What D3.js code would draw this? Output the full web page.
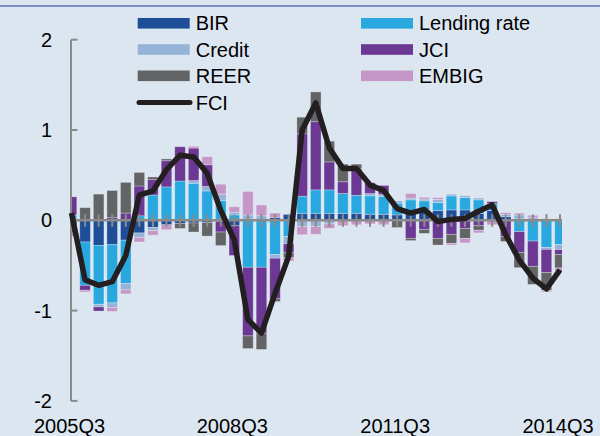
<!DOCTYPE html>
<html>
<head>
<meta charset="utf-8">
<script src="https://cdn.jsdelivr.net/npm/d3@7"></script>
<style>
  html, body { margin: 0; padding: 0; background: #dce6f1; }
  #chart { width: 600px; height: 436px; }
  text { font-family: "Liberation Sans", Arial, sans-serif; fill: #000; }
</style>
</head>
<body>
<div id="chart"></div>
<script>
const quarters = [
    "2005Q3", "2005Q4", "2006Q1", "2006Q2", "2006Q3", "2006Q4", "2007Q1", "2007Q2",
    "2007Q3", "2007Q4", "2008Q1", "2008Q2", "2008Q3", "2008Q4", "2009Q1", "2009Q2",
    "2009Q3", "2009Q4", "2010Q1", "2010Q2", "2010Q3", "2010Q4", "2011Q1", "2011Q2",
    "2011Q3", "2011Q4", "2012Q1", "2012Q2", "2012Q3", "2012Q4", "2013Q1", "2013Q2",
    "2013Q3", "2013Q4", "2014Q1", "2014Q2", "2014Q3"
];
const xLabels = ["2005Q3", "2008Q3", "2011Q3", "2014Q3"];
const yTicks = [-2, -1, 0, 1, 2];

const bir = [-0.06, -0.24, -0.28, -0.27, -0.22, -0.14, -0.08, -0.05, -0.035, -0.03, -0.025, -0.01,
    -0.06, 0, 0, 0.03, 0.065, 0.077, 0.077, 0.077, 0.077, 0.077, 0.066, 0.066, 0.06, 0.077,
    0.115, 0.107, 0.115, 0.115, 0.077, 0.107, 0.04, 0.015, 0.01, 0.015, 0.015];
const lending = [0.06, -0.48, -0.65, -0.645, -0.48, 0.05, 0.28, 0.37, 0.435, 0.41, 0.325, 0.22,
    0.06, -0.52, -0.52, -0.38, -0.18, 0.19, 0.26, 0.26, 0.22, 0.2, 0.205, 0.2, 0.13, 0.15,
    0.1, 0.09, 0.155, 0.137, 0.15, 0.08, 0, -0.125, -0.23, -0.3, -0.27];
const credit = [0, 0, -0.03, -0.05, -0.07, -0.05, -0.035, 0, 0, 0.03, 0.05, 0.07,
    0.03, 0.06, 0.05, -0.04, -0.08, -0.07, -0.07, -0.04, 0, 0, 0.025, 0.02, 0.025, 0.02,
    0.02, 0.035, 0.02, 0.02, 0.02, 0, 0.026, 0.045, 0.02, -0.022, -0.055];
const jci = [0.2, -0.055, -0.045, 0.03, 0.08, 0.33, 0.17, 0.29, 0.38, 0.36, 0.24, -0.12,
    -0.33, -0.76, -0.73, -0.45, -0.1, 0.69, 0.755, 0.31, 0.13, 0.295, 0.12, 0.1, 0, -0.2,
    -0.1, -0.2, -0.155, -0.09, -0.06, 0.02, -0.18, -0.23, -0.28, -0.255, -0.055];
const reer = [-0.08, 0.14, 0.29, 0.3, 0.34, 0.15, 0.03, 0.02, -0.055, -0.1, -0.15, -0.15,
    0, -0.14, -0.18, -0.03, -0.055, 0.185, 0.33, 0.23, 0.195, 0.05, 0, 0, -0.08, -0.025,
    -0.045, -0.074, -0.1, -0.11, -0.05, 0, -0.055, -0.17, -0.2, -0.2, -0.148];
const embig = [-0.04, -0.02, 0, -0.045, -0.045, -0.05, -0.05, -0.055, 0, 0.02, 0.09, 0.11,
    0.06, 0.26, 0.12, 0.05, -0.035, -0.09, -0.085, -0.05, -0.06, -0.05, -0.04, -0.05, 0, 0.05,
    0.02, 0.02, -0.02, -0.05, -0.03, -0.05, 0.02, 0.02, 0.026, -0.015, -0.037];
const fci = [0.08, -0.66, -0.72, -0.68, -0.39, 0.28, 0.325, 0.56, 0.72, 0.70, 0.52, 0.11,
    -0.22, -1.1, -1.25, -0.81, -0.40, 1.0, 1.3, 0.80, 0.575, 0.575, 0.39, 0.33, 0.13, 0.08,
    0.12, -0.015, 0.01, 0.02, 0.10, 0.17, -0.16, -0.44, -0.64, -0.76, -0.55];

const seriesNames = ["BIR", "Lending rate", "Credit", "JCI", "REER", "EMBIG"];
const seriesValues = [bir, lending, credit, jci, reer, embig];
const colors = ["#1f4e99", "#29a8e0", "#95b3d7", "#6b3894", "#636466", "#c497c7"];

const W = 600, H = 436;
const plot = { left: 71, right: 562, top: 39.7, bottom: 400.9 };

const svg = d3.select("#chart")
    .append("svg")
    .attr("width", W)
    .attr("height", H);

svg.append("rect").attr("width", W).attr("height", H).attr("fill", "#dce6f1");

// rule at the very top (title is cut off above it)
svg.append("line")
    .attr("x1", 0).attr("x2", W).attr("y1", 6).attr("y2", 6)
    .attr("stroke", "#7f8cc0").attr("stroke-width", 2);

const x = d3.scalePoint().domain(quarters).range([71.5, 560]);
const y = d3.scaleLinear().domain([-2, 2]).range([plot.bottom, plot.top]);
const barW = 10.6;

const rows = quarters.map((q, i) => {
    const r = { q: q };
    seriesNames.forEach((n, k) => r[n] = seriesValues[k][i]);
    return r;
});

const stacked = d3.stack()
    .keys(seriesNames)
    .offset(d3.stackOffsetDiverging)(rows);

svg.append("clipPath").attr("id", "plotclip")
    .append("rect")
    .attr("x", plot.left).attr("y", 0)
    .attr("width", plot.right - plot.left).attr("height", H);

const bars = svg.append("g").attr("clip-path", "url(#plotclip)");

bars.selectAll(".layer")
    .data(stacked)
    .enter()
    .append("g")
    .attr("class", "layer")
    .attr("fill", (d, i) => colors[i])
    .selectAll("rect")
    .data(d => d)
    .enter()
    .append("rect")
    .attr("x", d => x(d.data.q) - barW / 2)
    .attr("width", barW)
    .attr("y", d => y(Math.max(d[0], d[1])))
    .attr("height", d => Math.abs(y(d[0]) - y(d[1])))
    .attr("stroke", "#ffffff")
    .attr("stroke-opacity", 0.35)
    .attr("stroke-width", 0.8);

// zero line with quarter ticks
const axisColor = "#8a8a8a";
svg.append("line")
    .attr("x1", plot.left).attr("x2", plot.right)
    .attr("y1", y(0)).attr("y2", y(0))
    .attr("stroke", axisColor).attr("stroke-width", 2.5);

svg.selectAll(".qtick")
    .data(quarters)
    .enter()
    .append("line")
    .attr("class", "qtick")
    .attr("x1", d => x(d)).attr("x2", d => x(d))
    .attr("y1", y(0) - 6).attr("y2", y(0) + 6.5)
    .attr("stroke", axisColor).attr("stroke-width", 2);

// y axis
svg.append("line")
    .attr("x1", plot.left).attr("x2", plot.left)
    .attr("y1", y(2)).attr("y2", y(-2))
    .attr("stroke", axisColor).attr("stroke-width", 2);

svg.selectAll(".ytick")
    .data(yTicks)
    .enter()
    .append("line")
    .attr("x1", plot.left).attr("x2", plot.left + 6.5)
    .attr("y1", d => y(d)).attr("y2", d => y(d))
    .attr("stroke", axisColor).attr("stroke-width", 2);

svg.selectAll(".ylabel")
    .data(yTicks)
    .enter()
    .append("text")
    .attr("x", 52)
    .attr("y", d => y(d) + 7)
    .attr("text-anchor", "end")
    .style("font-size", "20px")
    .text(d => d);

svg.selectAll(".xlabel")
    .data(xLabels)
    .enter()
    .append("text")
    .attr("x", d => x(d) - 2)
    .attr("y", 433)
    .attr("text-anchor", "middle")
    .style("font-size", "20px")
    .text(d => d);

// FCI line
svg.append("path")
    .datum(fci)
    .attr("fill", "none")
    .attr("stroke", "#231f20")
    .attr("stroke-width", 5.5)
    .attr("stroke-linejoin", "round")
    .attr("d", d3.line()
        .x((d, i) => x(quarters[i]))
        .y(d => y(d)));

// legend
const legendItems = [
    { name: "BIR", color: colors[0], col: 0, row: 0 },
    { name: "Lending rate", color: colors[1], col: 1, row: 0 },
    { name: "Credit", color: colors[2], col: 0, row: 1 },
    { name: "JCI", color: colors[3], col: 1, row: 1 },
    { name: "REER", color: colors[4], col: 0, row: 2 },
    { name: "EMBIG", color: colors[5], col: 1, row: 2 }
];
const colX = [137.7, 361];
const rowY = [23.3, 49.5, 75.8, 102.5];

const legend = svg.append("g");
legend.selectAll(".sw")
    .data(legendItems)
    .enter()
    .append("rect")
    .attr("x", d => colX[d.col])
    .attr("y", d => rowY[d.row] - 5.3)
    .attr("width", 52)
    .attr("height", 10.6)
    .attr("fill", d => d.color);

legend.selectAll(".lt")
    .data(legendItems)
    .enter()
    .append("text")
    .attr("x", d => colX[d.col] + 58)
    .attr("y", d => rowY[d.row] + 7)
    .style("font-size", "20px")
    .text(d => d.name);

legend.append("line")
    .attr("x1", 139).attr("x2", 190)
    .attr("y1", rowY[3]).attr("y2", rowY[3])
    .attr("stroke", "#231f20").attr("stroke-width", 5)
    .attr("stroke-linecap", "round");

legend.append("text")
    .attr("x", colX[0] + 58)
    .attr("y", rowY[3] + 7)
    .style("font-size", "20px")
    .text("FCI");
</script>
</body>
</html>
